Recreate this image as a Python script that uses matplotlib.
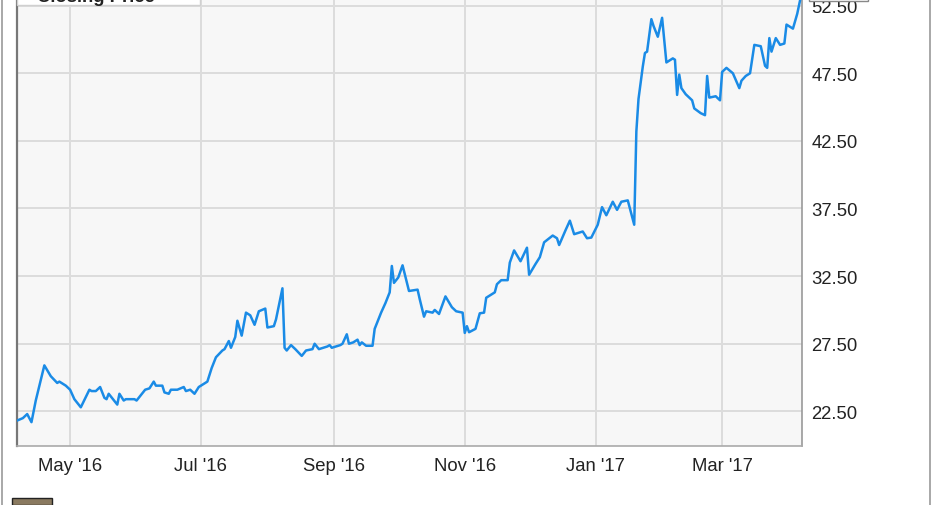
import matplotlib
matplotlib.use("Agg")
import matplotlib.pyplot as plt
import matplotlib.ticker as mticker
from matplotlib.patches import Rectangle
from matplotlib.lines import Line2D
import pandas as pd

# valores (fecha, precio)
fechas = ["2016-04-06", "2016-04-09", "2016-04-11", "2016-04-13", "2016-04-15", "2016-04-17",
          "2016-04-19", "2016-04-22", "2016-04-25", "2016-04-26", "2016-04-29", "2016-05-01",
          "2016-05-03", "2016-05-04", "2016-05-06", "2016-05-10", "2016-05-11", "2016-05-13",
          "2016-05-15", "2016-05-17", "2016-05-18", "2016-05-19", "2016-05-23", "2016-05-24",
          "2016-05-26", "2016-05-27", "2016-05-31", "2016-06-01", "2016-06-05", "2016-06-07",
          "2016-06-09", "2016-06-10", "2016-06-13", "2016-06-14", "2016-06-16", "2016-06-17",
          "2016-06-20", "2016-06-23", "2016-06-24", "2016-06-26", "2016-06-28", "2016-06-30",
          "2016-07-04", "2016-07-06", "2016-07-08", "2016-07-11", "2016-07-12", "2016-07-14",
          "2016-07-15", "2016-07-17", "2016-07-18", "2016-07-20", "2016-07-22", "2016-07-24",
          "2016-07-26", "2016-07-28", "2016-07-31", "2016-08-01", "2016-08-04", "2016-08-05",
          "2016-08-08", "2016-08-09", "2016-08-10", "2016-08-12", "2016-08-14", "2016-08-17",
          "2016-08-19", "2016-08-22", "2016-08-23", "2016-08-25", "2016-08-29", "2016-08-30",
          "2016-08-31", "2016-09-04", "2016-09-05", "2016-09-07", "2016-09-08", "2016-09-10",
          "2016-09-12", "2016-09-13", "2016-09-14", "2016-09-16", "2016-09-19", "2016-09-20",
          "2016-09-23", "2016-09-25", "2016-09-27", "2016-09-28", "2016-09-29", "2016-10-01",
          "2016-10-03", "2016-10-06", "2016-10-10", "2016-10-11", "2016-10-13", "2016-10-14",
          "2016-10-17", "2016-10-18", "2016-10-20", "2016-10-23", "2016-10-26", "2016-10-28",
          "2016-10-31", "2016-11-01", "2016-11-02", "2016-11-03", "2016-11-06", "2016-11-08",
          "2016-11-10", "2016-11-11", "2016-11-14", "2016-11-15", "2016-11-16", "2016-11-18",
          "2016-11-21", "2016-11-22", "2016-11-24", "2016-11-27", "2016-11-30", "2016-12-01",
          "2016-12-04", "2016-12-06", "2016-12-08", "2016-12-12", "2016-12-14", "2016-12-15",
          "2016-12-18", "2016-12-20", "2016-12-22", "2016-12-26", "2016-12-28", "2016-12-30",
          "2017-01-02", "2017-01-04", "2017-01-06", "2017-01-09", "2017-01-11", "2017-01-13",
          "2017-01-16", "2017-01-19", "2017-01-20", "2017-01-21", "2017-01-23", "2017-01-24",
          "2017-01-25", "2017-01-27", "2017-01-28", "2017-01-30", "2017-02-01", "2017-02-03",
          "2017-02-06", "2017-02-07", "2017-02-08", "2017-02-09", "2017-02-10", "2017-02-12",
          "2017-02-15", "2017-02-16", "2017-02-19", "2017-02-21", "2017-02-22", "2017-02-23",
          "2017-02-26", "2017-02-28", "2017-03-01", "2017-03-03", "2017-03-06", "2017-03-09",
          "2017-03-10", "2017-03-12", "2017-03-14", "2017-03-16", "2017-03-19", "2017-03-21",
          "2017-03-22", "2017-03-23", "2017-03-24", "2017-03-26", "2017-03-28", "2017-03-30",
          "2017-03-31", "2017-04-03", "2017-04-05", "2017-04-07"]

precios = [21.8, 22.0, 22.3, 21.7, 23.3, 24.6,
           25.9, 25.1, 24.6, 24.7, 24.4, 24.1,
           23.4, 23.2, 22.8, 24.1, 24.0, 24.0,
           24.3, 23.5, 23.4, 23.8, 23.0, 23.8,
           23.3, 23.4, 23.4, 23.3, 24.1, 24.2,
           24.7, 24.4, 24.4, 23.9, 23.8, 24.1,
           24.1, 24.3, 24.0, 24.1, 23.8, 24.3,
           24.7, 25.7, 26.5, 27.0, 27.1, 27.7,
           27.2, 28.0, 29.2, 28.1, 29.8, 29.6,
           28.9, 29.9, 30.1, 28.7, 28.8, 29.3,
           31.6, 27.2, 27.0, 27.4, 27.1, 26.6,
           27.0, 27.1, 27.5, 27.1, 27.3, 27.4,
           27.2, 27.4, 27.5, 28.2, 27.5, 27.6,
           27.8, 27.4, 27.6, 27.35, 27.35, 28.6,
           29.8, 30.5, 31.3, 33.25, 32.0, 32.4,
           33.3, 31.4, 31.5, 30.8, 29.5, 29.9,
           29.8, 30.0, 29.7, 31.0, 30.2, 29.9,
           29.8, 28.3, 28.8, 28.35, 28.6, 29.75,
           29.8, 30.9, 31.2, 31.3, 31.9, 32.2,
           32.2, 33.5, 34.4, 33.6, 34.6, 32.6,
           33.4, 33.9, 35.0, 35.5, 35.3, 34.8,
           35.9, 36.6, 35.6, 35.8, 35.3, 35.35,
           36.3, 37.6, 37.0, 38.0, 37.4, 38.0,
           38.1, 36.3, 43.2, 45.6, 48.0, 49.0,
           49.1, 51.5, 51.0, 50.2, 51.6, 48.3,
           48.6, 48.5, 45.9, 47.4, 46.4, 45.95,
           45.5, 44.9, 44.55, 44.4, 47.3, 45.7,
           45.8, 45.5, 47.6, 47.9, 47.5, 46.4,
           46.95, 47.3, 47.5, 49.6, 49.5, 48.05,
           47.9, 50.1, 49.1, 50.1, 49.6, 49.7,
           51.1, 50.8, 51.9, 53.4]

ticks_y = [22.5, 27.5, 32.5, 37.5, 42.5, 47.5, 52.5]
ticks_x = ["2016-05-01", "2016-07-01", "2016-09-01", "2016-11-01", "2017-01-01", "2017-03-01"]
etiquetas_x = ["May '16", "Jul '16", "Sep '16", "Nov '16", "Jan '17", "Mar '17"]
leyenda = "Closing Price"

plt.rcParams['font.family'] = ['Liberation Sans', 'DejaVu Sans']

fechas_dt = pd.to_datetime(fechas)

fig = plt.figure(figsize=(9.31, 5.06), dpi=100)
# el grafico esta recortado arriba: el eje sale un poco de la figura
ax = fig.add_axes([17/931, 59.3/506, 784.7/931, 476.7/506])
ax.set_facecolor("#f7f7f7")

ax.plot(fechas_dt, precios, color="#1a8be6", lw=1.8, solid_joinstyle="round", zorder=3)

ax.set_xlim(pd.Timestamp("2016-04-06 06:00"), pd.Timestamp("2017-04-07 02:00"))
ax.set_ylim(19.96, 55.21)

#Ejes y grid
ax.set_yticks(ticks_y)
ax.yaxis.set_major_formatter(mticker.FormatStrFormatter("%.2f"))
ax.yaxis.tick_right()
ax.set_xticks(pd.to_datetime(ticks_x))
ax.set_xticklabels(etiquetas_x)
ax.tick_params(axis="both", length=0, labelsize=13.3, colors="#222222")
ax.tick_params(axis="y", pad=7)
ax.tick_params(axis="x", pad=8)
ax.grid(True, color="#dcdcdc", lw=1.4)
ax.set_axisbelow(True)

ax.spines["top"].set_visible(False)
ax.spines["left"].set_color("#777777")
ax.spines["left"].set_linewidth(1.6)
ax.spines["bottom"].set_color("#aaaaaa")
ax.spines["bottom"].set_linewidth(1.2)
ax.spines["right"].set_color("#999999")
ax.spines["right"].set_linewidth(1.2)

#Caja de leyenda (cortada arriba, como en la imagen original)
fig.add_artist(Rectangle((17/931, 1 - 6/506), 183/931, 0.1, transform=fig.transFigure,
                         facecolor="white", edgecolor="#d0d0d0", lw=1, zorder=5))
fig.text(37/931, 1 - 1.5/506, leyenda, fontsize=13.3, fontweight="bold",
         va="baseline", ha="left", color="#222222", zorder=6)

#Caja del ultimo precio (arriba a la derecha)
fig.add_artist(Rectangle((809/931, 1 - 1.7/506), 59/931, 0.1, transform=fig.transFigure,
                         facecolor="white", edgecolor="#888888", lw=1, zorder=5))

#Marco exterior
fig.add_artist(Line2D([1.5/931, 1.5/931], [0, 1], transform=fig.transFigure, color="#999999", lw=1.2))
fig.add_artist(Line2D([929.5/931, 929.5/931], [0, 1], transform=fig.transFigure, color="#999999", lw=1.2))

#Logo pequeño abajo a la izquierda
fig.add_artist(Rectangle((12/931, 0), 40/931, 7/506, transform=fig.transFigure,
                         facecolor="#8a7a60", edgecolor="#222222", lw=1))

fig.savefig("out.png", dpi=100)
